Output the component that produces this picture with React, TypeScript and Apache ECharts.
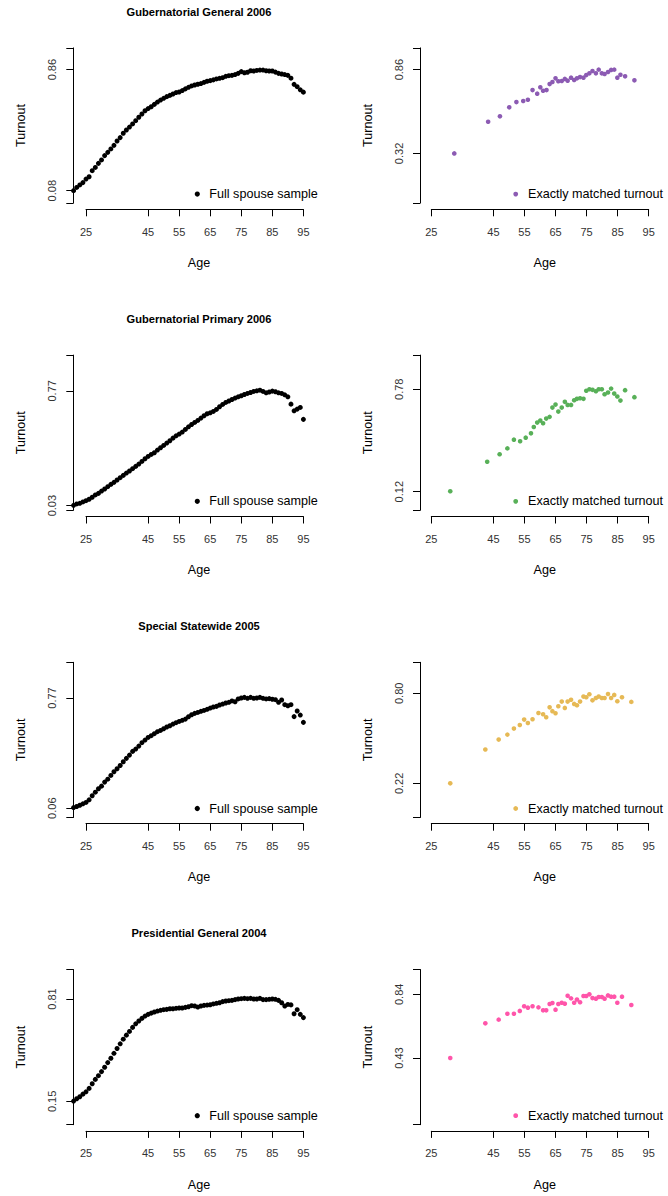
import React, { useEffect, useRef } from "react";
import * as echarts from "echarts";

// ---------------- DATA ----------------
const panelTitles = [
  "Gubernatorial General 2006",
  "Gubernatorial Primary 2006",
  "Special Statewide 2005",
  "Presidential General 2004",
];

const fullLabel = "Full spouse sample";
const matchedLabel = "Exactly matched turnout";
const ageLabel = "Age";
const turnoutLabel = "Turnout";

const xTickValues = [25, 45, 55, 65, 75, 85, 95];

// left column: full spouse sample, ages 21..95
const fullAges = [
  21, 22, 23, 24, 25, 26, 27, 28, 29, 30, 31, 32, 33, 34, 35, 36, 37, 38, 39, 40,
  41, 42, 43, 44, 45, 46, 47, 48, 49, 50, 51, 52, 53, 54, 55, 56, 57, 58, 59, 60,
  61, 62, 63, 64, 65, 66, 67, 68, 69, 70, 71, 72, 73, 74, 75, 76, 77, 78, 79, 80,
  81, 82, 83, 84, 85, 86, 87, 88, 89, 90, 91, 92, 93, 94, 95,
];

const fullGG2006 = [
  0.080, 0.101, 0.117, 0.132, 0.155, 0.170, 0.209, 0.230, 0.256, 0.278,
  0.306, 0.327, 0.349, 0.372, 0.400, 0.422, 0.450, 0.471, 0.490, 0.510,
  0.531, 0.553, 0.574, 0.595, 0.609, 0.621, 0.636, 0.651, 0.664, 0.675,
  0.686, 0.694, 0.703, 0.712, 0.716, 0.725, 0.736, 0.746, 0.755, 0.761,
  0.766, 0.770, 0.778, 0.785, 0.789, 0.794, 0.800, 0.804, 0.808, 0.817,
  0.821, 0.823, 0.828, 0.836, 0.847, 0.840, 0.843, 0.853, 0.851, 0.855,
  0.857, 0.857, 0.853, 0.851, 0.851, 0.844, 0.836, 0.832, 0.828, 0.823,
  0.805, 0.765, 0.750, 0.730, 0.715,
];

const fullGP2006 = [
  0.032, 0.041, 0.045, 0.054, 0.062, 0.071, 0.084, 0.099, 0.109, 0.124,
  0.137, 0.152, 0.167, 0.180, 0.195, 0.210, 0.225, 0.240, 0.253, 0.268,
  0.283, 0.298, 0.315, 0.332, 0.347, 0.360, 0.371, 0.388, 0.403, 0.418,
  0.433, 0.448, 0.465, 0.480, 0.491, 0.504, 0.521, 0.538, 0.553, 0.566,
  0.579, 0.594, 0.609, 0.622, 0.628, 0.637, 0.650, 0.667, 0.682, 0.695,
  0.704, 0.714, 0.723, 0.731, 0.738, 0.746, 0.753, 0.759, 0.766, 0.770,
  0.774, 0.766, 0.757, 0.762, 0.768, 0.764, 0.757, 0.753, 0.744, 0.731,
  0.684, 0.641, 0.652, 0.663, 0.586,
];

const fullSS2005 = [
  0.064, 0.071, 0.079, 0.088, 0.097, 0.114, 0.140, 0.163, 0.185, 0.202,
  0.228, 0.247, 0.271, 0.295, 0.314, 0.335, 0.359, 0.381, 0.402, 0.426,
  0.441, 0.460, 0.482, 0.499, 0.516, 0.527, 0.540, 0.553, 0.561, 0.572,
  0.583, 0.591, 0.602, 0.611, 0.619, 0.626, 0.634, 0.649, 0.662, 0.671,
  0.677, 0.684, 0.690, 0.697, 0.705, 0.712, 0.716, 0.725, 0.731, 0.738,
  0.742, 0.751, 0.746, 0.764, 0.770, 0.774, 0.768, 0.774, 0.768, 0.770,
  0.774, 0.768, 0.764, 0.766, 0.762, 0.759, 0.742, 0.757, 0.727, 0.720,
  0.727, 0.650, 0.686, 0.660, 0.613,
];

const fullPG2004 = [
  0.152, 0.167, 0.180, 0.197, 0.212, 0.234, 0.264, 0.292, 0.316, 0.342,
  0.370, 0.400, 0.428, 0.460, 0.491, 0.521, 0.551, 0.577, 0.601, 0.627,
  0.650, 0.668, 0.685, 0.700, 0.711, 0.719, 0.726, 0.732, 0.737, 0.741,
  0.743, 0.747, 0.747, 0.750, 0.752, 0.752, 0.756, 0.760, 0.767, 0.765,
  0.758, 0.765, 0.769, 0.771, 0.773, 0.778, 0.782, 0.786, 0.793, 0.797,
  0.799, 0.801, 0.806, 0.810, 0.812, 0.814, 0.812, 0.814, 0.810, 0.810,
  0.814, 0.806, 0.806, 0.808, 0.810, 0.808, 0.801, 0.786, 0.765, 0.775,
  0.772, 0.715, 0.741, 0.711, 0.690,
];

// right column: exactly matched turnout
const matchedAgesGG2006 = [
  32.4, 43.3, 47.1, 50.1, 52.4, 54.6, 56.1, 57.6, 59.1, 60.1, 61.0, 62.1, 63.1,
  64.0, 65.0, 65.9, 67.0, 68.0, 68.9, 70.0, 71.0, 71.9, 72.9, 74.0, 74.9, 75.9,
  76.9, 78.0, 78.9, 79.9, 80.8, 81.9, 82.9, 83.9, 84.9, 85.9, 87.4, 90.4,
];
const matchedGG2006 = [
  0.320, 0.524, 0.559, 0.617, 0.651, 0.658, 0.666, 0.728, 0.705, 0.746, 0.724,
  0.728, 0.767, 0.780, 0.804, 0.785, 0.787, 0.800, 0.789, 0.808, 0.793, 0.804,
  0.812, 0.808, 0.825, 0.836, 0.851, 0.836, 0.860, 0.836, 0.832, 0.845, 0.858,
  0.860, 0.808, 0.827, 0.817, 0.791,
];

const matchedAgesGP2006 = [
  31.1, 43.0, 47.0, 49.5, 51.6, 53.6, 55.4, 57.1, 58.0, 59.1, 60.1, 61.0, 62.0,
  63.1, 64.0, 65.0, 65.9, 67.0, 68.0, 68.9, 70.0, 71.0, 71.9, 72.9, 74.0, 74.9,
  75.9, 76.9, 78.0, 78.9, 79.9, 80.8, 81.9, 82.9, 83.9, 84.9, 85.9, 87.4, 90.4,
];
const matchedGP2006 = [
  0.123, 0.313, 0.361, 0.399, 0.455, 0.445, 0.468, 0.496, 0.537, 0.565, 0.578,
  0.561, 0.591, 0.602, 0.662, 0.681, 0.636, 0.662, 0.699, 0.679, 0.679, 0.709,
  0.718, 0.722, 0.718, 0.770, 0.780, 0.776, 0.767, 0.780, 0.780, 0.748, 0.759,
  0.784, 0.752, 0.733, 0.707, 0.774, 0.729,
];

const matchedAgesSS2005 = [
  31.1, 42.4, 46.7, 49.5, 51.6, 53.5, 54.9, 56.1, 57.6, 59.5, 61.0, 62.0, 63.1,
  64.0, 65.0, 65.9, 67.0, 68.0, 68.9, 70.0, 71.0, 71.9, 72.9, 74.0, 74.9, 75.9,
  76.9, 78.0, 78.9, 79.9, 80.8, 81.9, 82.9, 83.9, 84.9, 86.4, 89.4,
];
const matchedSS2005 = [
  0.220, 0.438, 0.502, 0.534, 0.573, 0.596, 0.631, 0.609, 0.633, 0.673, 0.665,
  0.646, 0.710, 0.685, 0.672, 0.717, 0.747, 0.706, 0.747, 0.759, 0.732, 0.723,
  0.747, 0.779, 0.775, 0.794, 0.755, 0.770, 0.779, 0.770, 0.770, 0.796, 0.770,
  0.790, 0.749, 0.775, 0.745,
];

const matchedAgesPG2004 = [
  31.1, 42.4, 46.7, 49.5, 51.6, 53.5, 54.9, 56.1, 57.6, 59.5, 61.0, 62.0, 63.1,
  64.0, 65.0, 65.9, 67.0, 68.0, 68.9, 70.0, 71.0, 71.9, 72.9, 74.0, 74.9, 75.9,
  76.9, 78.0, 78.9, 79.9, 80.8, 81.9, 82.9, 83.9, 84.9, 86.4, 89.4,
];
const matchedPG2004 = [
  0.430, 0.653, 0.677, 0.715, 0.715, 0.733, 0.763, 0.754, 0.763, 0.756, 0.737,
  0.737, 0.778, 0.784, 0.741, 0.778, 0.786, 0.780, 0.831, 0.814, 0.786, 0.806,
  0.789, 0.829, 0.829, 0.840, 0.816, 0.812, 0.823, 0.823, 0.812, 0.833, 0.825,
  0.825, 0.786, 0.825, 0.771,
];

// y tick labels shown on each panel
const fullYTicks = [
  [0.08, 0.86],
  [0.03, 0.77],
  [0.06, 0.77],
  [0.15, 0.81],
];
const matchedYTicks = [
  [0.32, 0.86],
  [0.12, 0.78],
  [0.22, 0.8],
  [0.43, 0.84],
];

const fullSeries = [fullGG2006, fullGP2006, fullSS2005, fullPG2004];
const matchedAges = [matchedAgesGG2006, matchedAgesGP2006, matchedAgesSS2005, matchedAgesPG2004];
const matchedSeries = [matchedGG2006, matchedGP2006, matchedSS2005, matchedPG2004];
const matchedColors = ["#8c5bb3", "#58b058", "#e6b955", "#ff55aa"];

// ---------------- LAYOUT ----------------
const FONT = '"Liberation Sans", Arial, Helvetica, sans-serif';
const ROW_STEP = 307.2;
const GRID_TOP0 = 47.9;
const GRID_H = 155.2;
const GRID_W = 217.4;
const COLS = [
  { gridLeft: 86, yOffset: 12.7, center: 199, legendDot: 197.3, legendText: 209.3, dot: 5, legendR: 2.6 },
  { gridLeft: 431.3, yOffset: 11.3, center: 544.7, legendDot: 515.7, legendText: 528, dot: 4.6, legendR: 2.4 },
];

function buildOption() {
  const grid: any[] = [];
  const xAxis: any[] = [];
  const yAxis: any[] = [];
  const series: any[] = [];
  const graphic: any[] = [];

  for (let r = 0; r < 4; r++) {
    const top = GRID_TOP0 + ROW_STEP * r;
    graphic.push({
      type: "text",
      x: COLS[0].center,
      y: 11.7 + ROW_STEP * r,
      silent: true,
      style: {
        text: panelTitles[r],
        font: `bold 11.1px ${FONT}`,
        fill: "#000",
        align: "center",
        verticalAlign: "middle",
      },
    });
    for (let c = 0; c < 2; c++) {
      const idx = grid.length;
      const col = COLS[c];
      const ticks = c === 0 ? fullYTicks[r] : matchedYTicks[r];
      const color = c === 0 ? "#000" : matchedColors[r];
      grid.push({ left: col.gridLeft, top, width: GRID_W, height: GRID_H });
      xAxis.push({
        type: "value",
        gridIndex: idx,
        min: 25,
        max: 95,
        offset: 6.2,
        axisLine: { show: true, onZero: false, lineStyle: { color: "#000", width: 1 } },
        axisTick: {
          show: true,
          length: 7,
          customValues: xTickValues,
          lineStyle: { color: "#000", width: 1 },
        },
        axisLabel: {
          customValues: xTickValues,
          margin: 17,
          fontSize: 11,
          fontFamily: FONT,
          color: "#333",
        },
        splitLine: { show: false },
      });
      yAxis.push({
        type: "value",
        gridIndex: idx,
        min: 0,
        max: 1,
        offset: col.yOffset,
        name: turnoutLabel,
        nameLocation: "middle",
        nameGap: 46,
        nameTextStyle: { fontSize: 12.6, fontFamily: FONT, color: "#000" },
        axisLine: { show: true, onZero: false, lineStyle: { color: "#000", width: 1 } },
        axisTick: {
          show: true,
          length: 7,
          customValues: [0, ticks[0], ticks[1], 1],
          lineStyle: { color: "#000", width: 1 },
        },
        axisLabel: {
          customValues: ticks,
          rotate: 90,
          margin: 16,
          fontSize: 11,
          fontFamily: FONT,
          color: "#333",
          formatter: (v: number) => v.toFixed(2),
        },
        splitLine: { show: false },
      });
      const ages = c === 0 ? fullAges : matchedAges[r];
      const vals = c === 0 ? fullSeries[r] : matchedSeries[r];
      series.push({
        type: "scatter",
        name: c === 0 ? fullLabel : matchedLabel,
        xAxisIndex: idx,
        yAxisIndex: idx,
        data: ages.map((a, i) => [a, vals[i]]),
        symbol: "circle",
        symbolSize: col.dot,
        itemStyle: { color, opacity: 1 },
        clip: false,
        silent: true,
      });
      // legend (R-style, inside bottom right)
      const ly = top + GRID_H - 9;
      graphic.push({
        type: "circle",
        silent: true,
        shape: { cx: col.legendDot, cy: ly, r: col.legendR },
        style: { fill: color },
      });
      graphic.push({
        type: "text",
        x: col.legendText,
        y: ly,
        silent: true,
        style: {
          text: c === 0 ? fullLabel : matchedLabel,
          font: `12.6px ${FONT}`,
          fill: "#000",
          align: "left",
          verticalAlign: "middle",
        },
      });
      // x axis title
      graphic.push({
        type: "text",
        x: col.center,
        y: 263 + ROW_STEP * r,
        silent: true,
        style: {
          text: ageLabel,
          font: `12.6px ${FONT}`,
          fill: "#000",
          align: "center",
          verticalAlign: "middle",
        },
      });
    }
  }

  return {
    animation: false,
    backgroundColor: "#ffffff",
    grid,
    xAxis,
    yAxis,
    series,
    graphic,
  };
}

export default function App() {
  const ref = useRef<HTMLDivElement>(null);
  useEffect(() => {
    if (!ref.current) return;
    const chart = echarts.init(ref.current, null, { renderer: "svg" });
    chart.setOption(buildOption() as any);
    return () => chart.dispose();
  }, []);
  return (
    <div
      ref={ref}
      style={{ position: "absolute", left: 0, top: 0, width: 668, height: 1196, background: "#fff" }}
    />
  );
}
